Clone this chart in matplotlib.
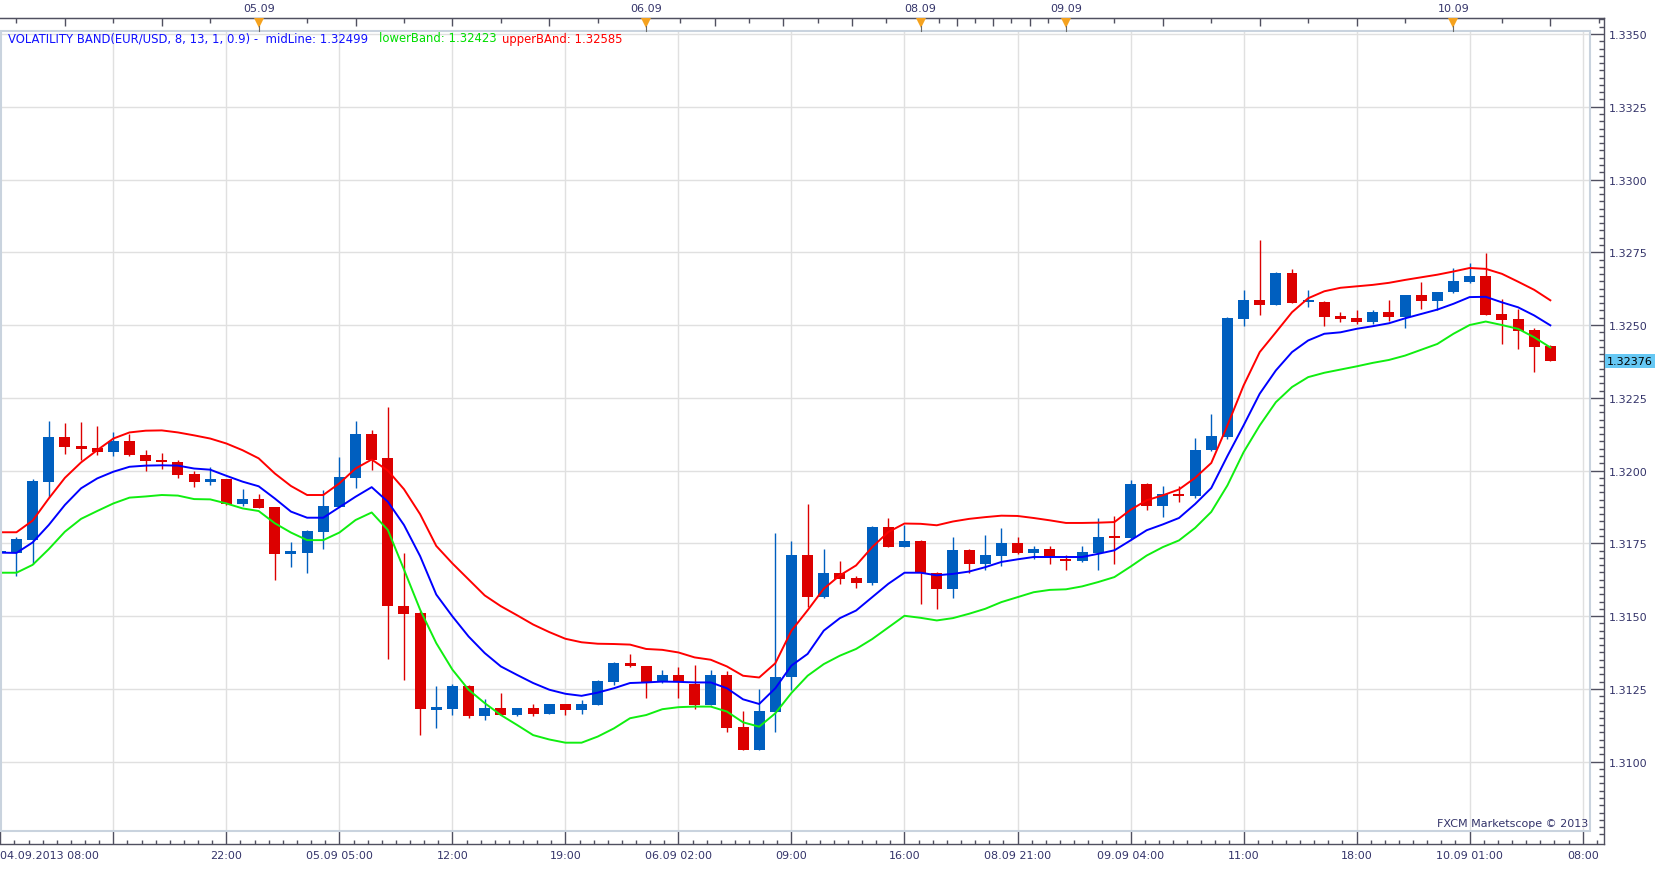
import numpy as np
import matplotlib
matplotlib.use("Agg")
import matplotlib.pyplot as plt
from matplotlib.patches import Rectangle
import matplotlib.transforms as mtransforms

# ---------------- data (hourly EUR/USD candles) ----------------
opens = [1.31716, 1.31716, 1.31761, 1.31961, 1.32114, 1.32083, 1.32076, 1.32065, 1.32100, 1.32055,
         1.32035, 1.32031, 1.31987, 1.31961, 1.31970, 1.31884, 1.31901, 1.31874, 1.31715, 1.31717,
         1.31789, 1.31874, 1.31973, 1.32124, 1.32042, 1.31535, 1.31509, 1.31179, 1.31182, 1.31260,
         1.31155, 1.31184, 1.31161, 1.31184, 1.31165, 1.31198, 1.31177, 1.31195, 1.31275, 1.31340,
         1.31329, 1.31275, 1.31298, 1.31266, 1.31196, 1.31298, 1.31119, 1.31041, 1.31172, 1.31289,
         1.31711, 1.31564, 1.31649, 1.31632, 1.31615, 1.31807, 1.31739, 1.31759, 1.31649, 1.31592,
         1.31728, 1.31680, 1.31707, 1.31752, 1.31718, 1.31731, 1.31697, 1.31688, 1.31718, 1.31773,
         1.31767, 1.31955, 1.31877, 1.31920, 1.31911, 1.32069, 1.32117, 1.32522, 1.32586, 1.32570,
         1.32679, 1.32578, 1.32580, 1.32531, 1.32525, 1.32509, 1.32545, 1.32529, 1.32604, 1.32584,
         1.32612, 1.32648, 1.32669, 1.32538, 1.32521, 1.32483, 1.32428]
highs = [1.31733, 1.31770, 1.31971, 1.32170, 1.32163, 1.32166, 1.32152, 1.32134, 1.32126, 1.32069,
         1.32062, 1.32036, 1.32000, 1.32011, 1.31972, 1.31935, 1.31918, 1.31876, 1.31753, 1.31797,
         1.31932, 1.32045, 1.32169, 1.32138, 1.32220, 1.31718, 1.31517, 1.31260, 1.31267, 1.31262,
         1.31214, 1.31237, 1.31185, 1.31198, 1.31199, 1.31199, 1.31212, 1.31279, 1.31341, 1.31371,
         1.31330, 1.31316, 1.31325, 1.31333, 1.31316, 1.31310, 1.31174, 1.31250, 1.31784, 1.31757,
         1.31886, 1.31731, 1.31690, 1.31636, 1.31808, 1.31838, 1.31812, 1.31760, 1.31650, 1.31773,
         1.31731, 1.31780, 1.31804, 1.31773, 1.31742, 1.31742, 1.31710, 1.31742, 1.31838, 1.31845,
         1.31968, 1.31958, 1.31946, 1.31946, 1.32113, 1.32195, 1.32527, 1.32621, 1.32792, 1.32681,
         1.32693, 1.32621, 1.32581, 1.32544, 1.32552, 1.32552, 1.32586, 1.32604, 1.32648, 1.32614,
         1.32696, 1.32713, 1.32748, 1.32590, 1.32555, 1.32490, 1.32432]
lows = [1.31676, 1.31638, 1.31678, 1.31910, 1.32057, 1.32036, 1.32053, 1.32050, 1.32049, 1.32000,
        1.32007, 1.31973, 1.31942, 1.31950, 1.31882, 1.31879, 1.31870, 1.31624, 1.31668, 1.31648,
        1.31729, 1.31874, 1.31939, 1.32001, 1.31353, 1.31282, 1.31091, 1.31117, 1.31160, 1.31149,
        1.31143, 1.31160, 1.31157, 1.31155, 1.31164, 1.31161, 1.31165, 1.31194, 1.31264, 1.31325,
        1.31217, 1.31270, 1.31217, 1.31180, 1.31195, 1.31101, 1.31039, 1.31039, 1.31103, 1.31247,
        1.31532, 1.31563, 1.31609, 1.31598, 1.31608, 1.31738, 1.31738, 1.31540, 1.31526, 1.31563,
        1.31647, 1.31657, 1.31671, 1.31713, 1.31697, 1.31678, 1.31660, 1.31687, 1.31660, 1.31680,
        1.31766, 1.31863, 1.31842, 1.31891, 1.31905, 1.32068, 1.32107, 1.32498, 1.32536, 1.32569,
        1.32576, 1.32561, 1.32495, 1.32512, 1.32505, 1.32505, 1.32514, 1.32490, 1.32555, 1.32552,
        1.32611, 1.32645, 1.32535, 1.32435, 1.32419, 1.32340, 1.32375]
closes = [1.31722, 1.31764, 1.31963, 1.32114, 1.32081, 1.32074, 1.32063, 1.32100, 1.32053, 1.32033,
          1.32030, 1.31985, 1.31961, 1.31970, 1.31885, 1.31901, 1.31871, 1.31713, 1.31719, 1.31791,
          1.31877, 1.31977, 1.32124, 1.32038, 1.31535, 1.31508, 1.31180, 1.31184, 1.31260, 1.31155,
          1.31184, 1.31161, 1.31184, 1.31165, 1.31198, 1.31177, 1.31198, 1.31278, 1.31340, 1.31327,
          1.31275, 1.31298, 1.31275, 1.31196, 1.31298, 1.31117, 1.31041, 1.31174, 1.31291, 1.31709,
          1.31564, 1.31649, 1.31629, 1.31615, 1.31807, 1.31739, 1.31759, 1.31649, 1.31592, 1.31728,
          1.31680, 1.31711, 1.31752, 1.31718, 1.31731, 1.31705, 1.31688, 1.31720, 1.31773, 1.31767,
          1.31955, 1.31877, 1.31920, 1.31911, 1.32071, 1.32120, 1.32525, 1.32586, 1.32570, 1.32679,
          1.32577, 1.32584, 1.32529, 1.32521, 1.32509, 1.32545, 1.32529, 1.32604, 1.32584, 1.32614,
          1.32652, 1.32669, 1.32536, 1.32519, 1.32481, 1.32426, 1.32376]

upper_band = [1.31788, 1.31788, 1.31828, 1.31904, 1.31975, 1.32028, 1.32070, 1.32110, 1.32131, 1.32137,
              1.32138, 1.32131, 1.32121, 1.32110, 1.32093, 1.32070, 1.32042, 1.31990, 1.31947, 1.31916,
              1.31916, 1.31956, 1.32007, 1.32038, 1.32000, 1.31936, 1.31850, 1.31741, 1.31681, 1.31626,
              1.31571, 1.31534, 1.31503, 1.31471, 1.31445, 1.31422, 1.31410, 1.31405, 1.31404, 1.31402,
              1.31387, 1.31384, 1.31375, 1.31358, 1.31350, 1.31327, 1.31295, 1.31289, 1.31338, 1.31450,
              1.31520, 1.31594, 1.31640, 1.31674, 1.31737, 1.31789, 1.31818, 1.31817, 1.31812, 1.31825,
              1.31834, 1.31840, 1.31845, 1.31844, 1.31837, 1.31829, 1.31820, 1.31820, 1.31821, 1.31823,
              1.31865, 1.31898, 1.31915, 1.31935, 1.31975, 1.32026, 1.32155, 1.32292, 1.32407, 1.32475,
              1.32544, 1.32592, 1.32616, 1.32628, 1.32633, 1.32638, 1.32645, 1.32655, 1.32664, 1.32673,
              1.32684, 1.32696, 1.32693, 1.32676, 1.32649, 1.32621, 1.32585]
mid_band = [1.31718, 1.31717, 1.31753, 1.31813, 1.31882, 1.31939, 1.31973, 1.31996, 1.32013, 1.32017,
            1.32018, 1.32017, 1.32007, 1.32003, 1.31982, 1.31962, 1.31946, 1.31904, 1.31859, 1.31838,
            1.31838, 1.31874, 1.31910, 1.31943, 1.31893, 1.31813, 1.31706, 1.31574, 1.31499, 1.31430,
            1.31373, 1.31327, 1.31298, 1.31270, 1.31247, 1.31233, 1.31226, 1.31237, 1.31252, 1.31270,
            1.31272, 1.31275, 1.31274, 1.31272, 1.31272, 1.31252, 1.31214, 1.31198, 1.31252, 1.31330,
            1.31370, 1.31450, 1.31493, 1.31519, 1.31565, 1.31611, 1.31649, 1.31649, 1.31640, 1.31645,
            1.31653, 1.31668, 1.31686, 1.31695, 1.31703, 1.31703, 1.31703, 1.31703, 1.31714, 1.31726,
            1.31760, 1.31795, 1.31815, 1.31837, 1.31885, 1.31940, 1.32050, 1.32155, 1.32264, 1.32344,
            1.32407, 1.32447, 1.32470, 1.32475, 1.32487, 1.32496, 1.32506, 1.32523, 1.32538, 1.32553,
            1.32573, 1.32596, 1.32597, 1.32578, 1.32561, 1.32533, 1.32499]
lower_band = [1.31649, 1.31649, 1.31676, 1.31730, 1.31790, 1.31834, 1.31861, 1.31887, 1.31907, 1.31911,
              1.31916, 1.31914, 1.31902, 1.31901, 1.31887, 1.31870, 1.31861, 1.31819, 1.31787, 1.31761,
              1.31761, 1.31787, 1.31830, 1.31856, 1.31796, 1.31660, 1.31522, 1.31407, 1.31316, 1.31247,
              1.31201, 1.31160, 1.31126, 1.31091, 1.31076, 1.31065, 1.31065, 1.31086, 1.31114, 1.31149,
              1.31160, 1.31180, 1.31187, 1.31189, 1.31189, 1.31172, 1.31135, 1.31120, 1.31166, 1.31236,
              1.31295, 1.31335, 1.31364, 1.31387, 1.31421, 1.31461, 1.31501, 1.31494, 1.31485, 1.31493,
              1.31508, 1.31525, 1.31548, 1.31565, 1.31582, 1.31590, 1.31592, 1.31602, 1.31617, 1.31634,
              1.31670, 1.31708, 1.31737, 1.31760, 1.31803, 1.31858, 1.31949, 1.32063, 1.32155, 1.32235,
              1.32287, 1.32321, 1.32336, 1.32347, 1.32358, 1.32370, 1.32380, 1.32395, 1.32415, 1.32435,
              1.32470, 1.32500, 1.32512, 1.32500, 1.32487, 1.32458, 1.32423]

time_labels = ["04.09.2013 08:00", "", "22:00", "05.09 05:00", "12:00", "19:00", "06.09 02:00",
               "09:00", "16:00", "08.09 21:00", "09.09 04:00", "11:00", "18:00", "10.09 01:00", "08:00"]
label_step = 7
day_names = ["05.09", "06.09", "08.09", "09.09", "10.09"]
day_starts = [-8, 16, 40, 57, 66, 90, 114]
price_ticks = [1.3100, 1.3125, 1.3150, 1.3175, 1.3200, 1.3225, 1.3250, 1.3275, 1.3300, 1.3325, 1.3350]
legend_main = "VOLATILITY BAND(EUR/USD, 8, 13, 1, 0.9) -  midLine: 1.32499"
legend_lower = "lowerBand: 1.32423"
legend_upper = "upperBAnd: 1.32585"
last_price = 1.32376
credit = "FXCM Marketscope \u00a9 2013"

# ---------------- styling / layout ----------------
plt.rcParams["font.family"] = ["DejaVu Sans"]
W, H, DPI = 1663, 870, 100
AX_L, AX_R, AX_T, AX_B = 0, 1604, 19, 845
FRAME_R, FRAME_T, FRAME_B = 1590, 32, 832
BAR_PX = 16.146
REF_PRICE, REF_PX, PPU = 1.3350, 35.0, 29104.0
TXT = "#34346a"
AXC = "#505060"
UP_C, DN_C = "#005fbf", "#dc0000"

fig = plt.figure(figsize=(W / DPI, H / DPI), dpi=DPI)
ax = fig.add_axes([AX_L / W, 1 - AX_B / H, (AX_R - AX_L) / W, (AX_B - AX_T) / H])
x0 = -0.02
XLIM = (x0, x0 + (AX_R - AX_L) / BAR_PX)
YLIM = (REF_PRICE - (AX_B - REF_PX) / PPU, REF_PRICE + (REF_PX - AX_T) / PPU)
ax.set_xlim(*XLIM)
ax.set_ylim(*YLIM)

def px2x(px):
    return x0 + px / BAR_PX

def px2y(py):
    return REF_PRICE - (py - REF_PX) / PPU

# grid
for p in price_ticks:
    ax.plot([px2x(0), px2x(FRAME_R)], [p, p], color="#e0e0e0", lw=1.0, zorder=1)
for i in range(label_step, 99, label_step):
    ax.plot([i, i], [px2y(FRAME_B), px2y(FRAME_T)], color="#e0e0e0", lw=1.0, zorder=1)

# candles
o = np.array(opens); h = np.array(highs); l = np.array(lows); c = np.array(closes)
idx = np.arange(len(o))
cols = np.where(c >= o, UP_C, DN_C)
ax.vlines(idx, l, h, colors=cols, lw=1.0, zorder=2)
bottoms = np.minimum(o, c)
heights = np.maximum(np.abs(c - o), 7e-5)
ax.bar(idx, heights, bottom=bottoms, width=0.68, color=cols, linewidth=0, zorder=3)

# bands
ax.plot(idx, upper_band, color="#ff0000", lw=1.4, zorder=4)
ax.plot(idx, mid_band, color="#0000ff", lw=1.4, zorder=4)
ax.plot(idx, lower_band, color="#10ee10", lw=1.4, zorder=4)

# spines
ax.spines["left"].set_visible(False)
for s in ("top", "bottom", "right"):
    ax.spines[s].set_color(AXC)
    ax.spines[s].set_linewidth(1.0)

# bottom axis
ax.set_xticks([k * label_step for k in range(len(time_labels))], labels=time_labels)
minor_x = [k * label_step / 8 for k in range(0, 8 * 15) if k % 8 != 0 and k * label_step / 8 < XLIM[1]]
ax.set_xticks(minor_x, minor=True)
ax.tick_params(axis="x", which="major", direction="in", length=9.4, width=1, color=AXC,
               pad=4.5, labelsize=8, labelcolor=TXT)
ax.tick_params(axis="x", which="minor", direction="in", length=3.2, width=1, color=AXC)
ax.get_xticklabels()[0].set_horizontalalignment("left")

# right axis
ax.yaxis.tick_right()
ax.set_yticks(price_ticks, labels=[f"{p:.4f}" for p in price_ticks])
minor_y = [1.3075 + k * 0.00025 for k in range(0, 113)]
minor_y = [v for v in minor_y if YLIM[0] < v < YLIM[1]]
ax.set_yticks(minor_y, minor=True)
ax.tick_params(axis="y", which="major", direction="in", length=10.1, width=1, color=AXC,
               pad=3.6, labelsize=8, labelcolor=TXT)
ax.tick_params(axis="y", which="minor", direction="in", length=3.6, width=1, color=AXC)

# top axis (day based time scale)
sec = ax.secondary_xaxis("top")
top_major, top_minor = [], []
for d in range(len(day_starts) - 1):
    s, e = day_starts[d], day_starts[d + 1]
    for k in range(1, 8):
        pos = s + k * (e - s) / 8
        if 0 <= pos <= XLIM[1]:
            (top_major if k % 2 == 0 else top_minor).append(pos)
sec.set_xticks(top_major, labels=[""] * len(top_major))
sec.set_xticks(top_minor, minor=True)
sec.tick_params(axis="x", which="major", direction="in", length=6.0, width=1, color=AXC)
sec.tick_params(axis="x", which="minor", direction="in", length=3.6, width=1, color=AXC)
sec.spines["top"].set_color(AXC)

ax.set_xlim(*XLIM)
ax.set_ylim(*YLIM)

# overlay in pixel coordinates
ov = fig.add_axes([0, 0, 1, 1], zorder=5)
ov.set_xlim(0, W)
ov.set_ylim(H, 0)
ov.axis("off")
ov.patch.set_alpha(0)
ov.add_patch(Rectangle((1, FRAME_T), FRAME_R - 1, FRAME_B - FRAME_T, fill=False,
                       ec="#c9d3de", lw=1.5))

tr_x = mtransforms.blended_transform_factory(ax.transData, ov.transData)
tr_y = mtransforms.blended_transform_factory(ov.transData, ax.transData)

markers_x = day_starts[1:1 + len(day_names)]
ov.plot(markers_x, [24] * len(markers_x), transform=tr_x, linestyle="none", marker="v",
        ms=7.5, color="#f5a21e", mew=0, clip_on=False)
for mx in markers_x:
    ov.plot([mx, mx], [27, FRAME_T], transform=tr_x, color="#6a6a6a", lw=0.8)
for name, mx in zip(day_names, markers_x):
    ov.text(mx, 8.5, name, transform=tr_x, ha="center", va="center", fontsize=8, color=TXT)

# legend
ov.text(8.5, 39, legend_main, ha="left", va="center", fontsize=8.4, color="#1010ff")
ov.text(378.6, 39, legend_lower, ha="left", va="center", fontsize=8.4, color="#00dd00")
ov.text(501.7, 39, legend_upper, ha="left", va="center", fontsize=8.4, color="#ff0000")

# credit
ov.text(1588, 824, credit, ha="right", va="center", fontsize=8, color=TXT)

# last price box
ov.text(1607, last_price, f"{last_price:.5f}", transform=tr_y, ha="left", va="center",
        fontsize=8, color="#000000",
        bbox=dict(boxstyle="square,pad=0.18", fc="#66c8f4", ec="none"))

fig.savefig("out.png", dpi=DPI)
